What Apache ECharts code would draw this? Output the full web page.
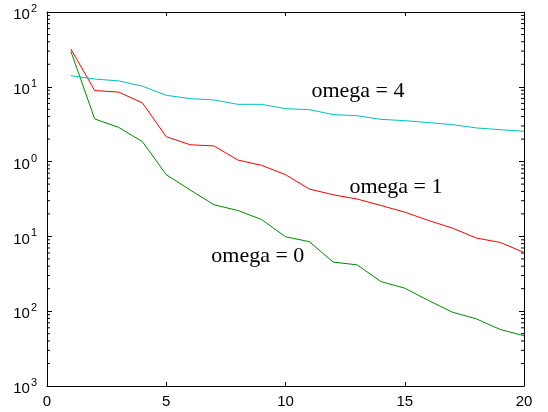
<!DOCTYPE html>
<html>
<head>
<meta charset="utf-8">
<script src="https://cdn.jsdelivr.net/npm/echarts@6/dist/echarts.min.js"></script>
<style>
  html, body { margin: 0; padding: 0; background: #fff; }
  #chart { width: 548px; height: 412px; }
</style>
</head>
<body>
<div id="chart"></div>
<script>
// iterations 1..20
const xValues = [1, 2, 3, 4, 5, 6, 7, 8, 9, 10, 11, 12, 13, 14, 15, 16, 17, 18, 19, 20]

// omega = 0
const omega0 = [29.9, 3.72, 2.87, 1.85, 0.668, 0.418, 0.265, 0.222, 0.168, 0.099,
    0.085, 0.0453, 0.0417, 0.0249, 0.0203, 0.0139, 0.0097, 0.0079, 0.0057, 0.0047]
// omega = 1
const omega1 = [32, 8.9, 8.5, 6.1, 2.15, 1.68, 1.62, 1.05, 0.89, 0.668,
    0.43, 0.36, 0.316, 0.259, 0.211, 0.163, 0.129, 0.095, 0.083, 0.061]
// omega = 4
const omega4 = [14.1, 12.7, 12.0, 10.2, 7.7, 6.95, 6.67, 5.83, 5.83, 5.1,
    4.95, 4.25, 4.11, 3.67, 3.53, 3.32, 3.12, 2.82, 2.67, 2.54]

// tick labels (exponents shown as superscript, as printed)
const yTickValues = [0.001, 0.01, 0.1, 1, 10, 100]
const yTickSup = ['3', '2', '1', '0', '1', '2']
const xTickLabels = ['0', '5', '10', '15', '20']

// curve annotations
const annotations = [
    {text: 'omega = 4', coord: [13.04, 8.6]},
    {text: 'omega = 1', coord: [14.63, 0.448]},
    {text: 'omega = 0', coord: [8.84, 0.055]}
]

// minor tick values of the log axis (2..9 in every decade)
const minorTicks = []
yTickValues.slice(0, -1).forEach(d => {
    for (let k = 2; k <= 9; k++) minorTicks.push(+(d * k).toPrecision(3))
})

const chart = echarts.init(document.getElementById('chart'))

const pairs = arr => xValues.map((x, i) => [x, arr[i]])

const axisLine = {show: true, onZero: false, lineStyle: {color: '#000', width: 1}}

function lineSeries(name, data, color, ann) {
    return {
        name: name,
        type: 'line',
        data: pairs(data),
        symbol: 'none',
        lineStyle: {color: color, width: 1},
        itemStyle: {color: color},
        z: 3,
        markPoint: {
            symbol: 'circle',
            symbolSize: 0,
            label: {
                show: true,
                position: 'inside',
                formatter: ann.text,
                color: '#000',
                fontFamily: 'Liberation Serif',
                fontSize: 22
            },
            data: [{coord: ann.coord}]
        }
    }
}

chart.setOption({
    animation: false,
    backgroundColor: '#fff',
    grid: {left: 47, right: 24, top: 12, bottom: 26},
    xAxis: [{
        type: 'value',
        min: 0,
        max: 20,
        interval: 5,
        position: 'bottom',
        axisLine: axisLine,
        axisTick: {show: true, inside: true, length: 4, lineStyle: {color: '#000'}},
        axisLabel: {
            margin: 8,
            color: '#000',
            fontFamily: 'Liberation Sans',
            fontSize: 15,
            formatter: v => xTickLabels[v / 5]
        },
        splitLine: {show: false}
    }, {
        type: 'value',
        min: 0,
        max: 20,
        interval: 5,
        position: 'top',
        axisLine: axisLine,
        axisTick: {show: true, inside: true, length: 4, lineStyle: {color: '#000'}},
        axisLabel: {show: false},
        splitLine: {show: false}
    }],
    yAxis: [{
        type: 'log',
        logBase: 10,
        min: 0.001,
        max: 100,
        position: 'left',
        axisLine: axisLine,
        axisTick: {show: true, inside: true, length: 5, lineStyle: {color: '#000'}},
        minorTick: {show: false},
        axisLabel: {
            margin: 10,
            color: '#000',
            fontFamily: 'Liberation Sans',
            formatter: v => {
                const i = yTickValues.findIndex(t => Math.abs(Math.log10(t) - Math.log10(v)) < 1e-6)
                return '{b|10}{s|' + yTickSup[i] + '}'
            },
            rich: {
                b: {fontSize: 15, fontFamily: 'Liberation Sans', color: '#000', padding: [6, 0, 0, 0]},
                s: {fontSize: 11, fontFamily: 'Liberation Sans', color: '#000', padding: [0, 0, 6, 1]}
            }
        },
        splitLine: {show: false}
    }, {
        type: 'log',
        logBase: 10,
        min: 0.001,
        max: 100,
        position: 'right',
        axisLine: axisLine,
        axisTick: {show: true, inside: true, length: 5, lineStyle: {color: '#000'}},
        axisLabel: {show: false},
        splitLine: {show: false}
    }],
    series: [
        lineSeries('omega = 0', omega0, '#008a00', annotations[2]),
        lineSeries('omega = 1', omega1, '#ff0000', annotations[1]),
        lineSeries('omega = 4', omega4, '#00c0c0', annotations[0]),
        {
            // log-spaced minor ticks on left and right axes
            type: 'custom',
            silent: true,
            data: minorTicks.map(v => [0, v]),
            renderItem: (params, api) => {
                const l = api.coord([0, api.value(1)])
                const r = api.coord([20, api.value(1)])
                const style = {stroke: '#000', lineWidth: 1}
                return {
                    type: 'group',
                    children: [
                        {type: 'line', shape: {x1: l[0], y1: l[1], x2: l[0] + 3, y2: l[1]}, style: style},
                        {type: 'line', shape: {x1: r[0], y1: r[1], x2: r[0] - 3, y2: r[1]}, style: style}
                    ]
                }
            },
            z: 2
        }
    ]
})
</script>
</body>
</html>
